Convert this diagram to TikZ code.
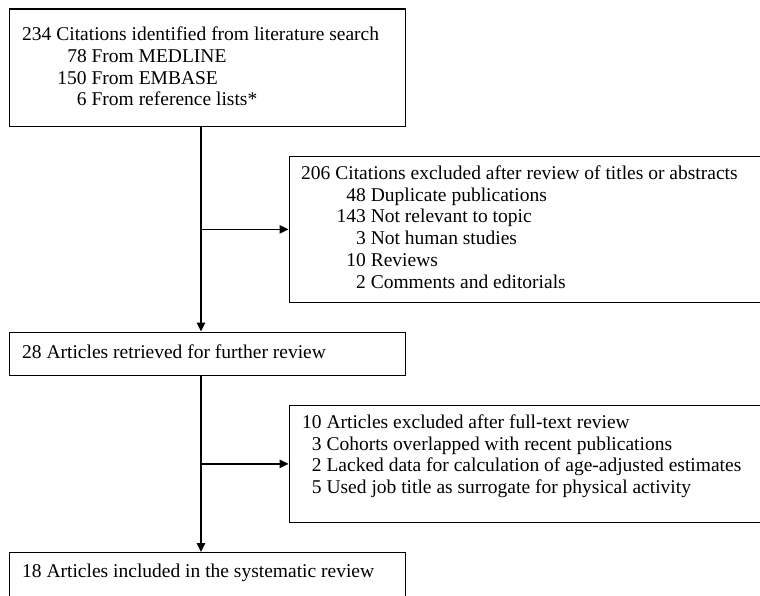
\documentclass[tikz,border=0pt]{standalone}
\usepackage{fontspec}
\setmainfont{Liberation Serif}
\usetikzlibrary{arrows.meta}
\begin{document}
\begin{tikzpicture}[x=1pt,y=-1pt,
  box/.style={draw, line width=1.3pt, rectangle, anchor=north west, inner sep=0pt},
  txt/.style={anchor=base west, inner sep=0pt, font=\fontsize{19.5}{21.8}\selectfont},
  conn/.style={line width=1.3pt, -{Triangle[length=9pt,width=8.5pt]}}
]
\useasboundingbox (0,0) rectangle (760,595);
\clip (0,0) rectangle (760,595);
\coordinate (spine) at (201,0);
% boxes
\node[box, minimum width=396pt, minimum height=117.4pt] (b1) at (9,8.3) {};
\node[box, minimum width=396pt, minimum height=43pt] (b2) at (9,331.5) {};
\node[box, minimum width=396pt, minimum height=60pt] (b3) at (9,552) {};
\node[box, minimum width=492pt, minimum height=146.5pt] (r1) at (288.5,155.5) {};
\node[box, minimum width=492pt, minimum height=116.5pt] (r2) at (288.5,405) {};
% texts
\node[txt] (t1) at (22,40.5) {\begin{tabular}[t]{@{\hspace{35.3pt}}r@{\ }l@{}}
\multicolumn{2}{@{}l@{}}{234 Citations identified from literature search}\\
78 & From MEDLINE\\
150 & From EMBASE\\
6 & From reference lists*
\end{tabular}};
\node[txt] (t2) at (22,358) {28 Articles retrieved for further review};
\node[txt] (t3) at (22,577) {18 Articles included in the systematic review};
\node[txt] (tr1) at (301,179.3) {\begin{tabular}[t]{@{\hspace{35.5pt}}r@{\ }l@{}}
\multicolumn{2}{@{}l@{}}{206 Citations excluded after review of titles or abstracts}\\
48 & Duplicate publications\\
143 & Not relevant to topic\\
3 & Not human studies\\
10 & Reviews\\
2 & Comments and editorials
\end{tabular}};
\node[txt] (tr2) at (302,428.3) {\begin{tabular}[t]{@{\hspace{9.75pt}}r@{\ }l@{}}
\multicolumn{2}{@{}l@{}}{10 Articles excluded after full-text review}\\
3 & Cohorts overlapped with recent publications\\
2 & Lacked data for calculation of age-adjusted estimates\\
5 & Used job title as surrogate for physical activity
\end{tabular}};
% connectors
\draw[conn] (b1.south -| spine) -- (b2.north -| spine);
\draw[conn] (r1.west -| spine) -- (r1.west);
\draw[conn] (b2.south -| spine) -- (b3.north -| spine);
\draw[conn] (r2.west -| spine) -- (r2.west);
\end{tikzpicture}
\end{document}
